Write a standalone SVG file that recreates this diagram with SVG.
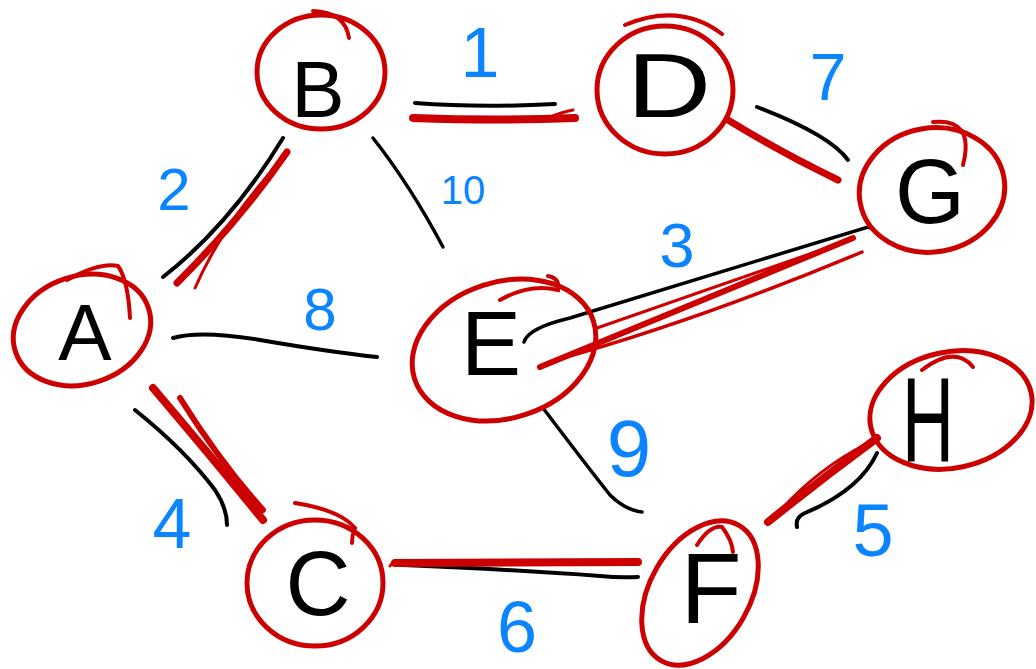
<svg xmlns="http://www.w3.org/2000/svg" width="1036" height="669" viewBox="0 0 1036 669">
<style>
.n{fill:none;stroke:#cc0000;stroke-width:5;stroke-linecap:round;stroke-linejoin:round}
.t{fill:none;stroke:#cc0000;stroke-width:4;stroke-linecap:round}
.lbl{font-family:"Liberation Sans",Arial,sans-serif;fill:#000;text-anchor:middle}
.w{font-family:"Liberation Sans",Arial,sans-serif;fill:#0a84ff;text-anchor:middle}
.k{fill:none;stroke:#000;stroke-width:4;stroke-linecap:round}
.r{fill:none;stroke:#cc0000;stroke-width:8;stroke-linecap:round}
.rt{fill:none;stroke:#cc0000;stroke-width:3;stroke-linecap:round}
</style>
<rect width="1036" height="669" fill="#fff"/>
<g id="edges">
  <!-- A-B -->
  <path class="k" d="M163 277 Q230 225 283 138"/>
  <path class="r" d="M177 283 Q240 220 287 152" style="stroke-width:7"/>
  <path class="rt" d="M195 288 Q225 220 282 160"/>
  <!-- B-E -->
  <path class="k" d="M373 138 Q410 185 443 247" style="stroke-width:3.5"/>
  <!-- B-D -->
  <path class="k" d="M415 103 Q480 108 555 104"/>
  <path class="r" d="M413 118 Q500 121 575 118"/>
  <path class="rt" d="M548 118 Q562 112 573 110"/>
  <!-- D-G -->
  <path class="k" d="M757 107 Q830 135 848 160"/>
  <path class="r" d="M728 120 Q780 152 838 180" style="stroke-width:7"/>
  <!-- E-G -->
  <path class="k" d="M524 342 Q528 328 570 318 L868 227 Q873 228 875 232" style="stroke-width:3.5"/>
  <path class="r" d="M540 367 L853 238" style="stroke-width:6"/>
  <path class="rt" d="M597 328 L850 240"/>
  <path class="rt" d="M556 360 Q700 320 862 252" style="stroke-width:3.5"/>
  <!-- A-E -->
  <path class="k" d="M173 338 Q200 330 260 340 Q330 352 377 357"/>
  <!-- A-C -->
  <path class="k" d="M135 410 Q185 450 215 490 Q227 508 227 525"/>
  <path class="r" d="M153 388 Q210 455 263 520"/>
  <path class="r" d="M180 398 Q220 462 263 510" style="stroke-width:6"/>
  <!-- E-F -->
  <path class="k" d="M543 408 Q590 470 610 495 Q625 510 642 512" style="stroke-width:3.5"/>
  <!-- C-F -->
  <path class="k" d="M403 565 Q520 570 600 576 Q620 578 638 577"/>
  <path class="r" d="M395 563 L638 562"/>
  <path class="rt" d="M390 566 Q394 560 405 561"/>
  <!-- F-H -->
  <path class="r" d="M768 522 Q820 480 877 438"/>
  <path class="rt" d="M772 520 Q812 472 866 444"/>
  <path class="k" d="M797 527 Q795 517 805 513 Q860 490 877 453"/>
</g>
<g id="node-A">
  <ellipse class="n" cx="82" cy="330" rx="70" ry="54" transform="rotate(-18 82 330)"/>
  <path class="t" d="M67 280 Q100 262 118 266 Q128 280 130 318"/>
  <text class="lbl" x="85" y="360" font-size="80">A</text>
</g>
<g id="node-B">
  <ellipse class="n" cx="321" cy="72" rx="64" ry="57"/>
  <path class="t" d="M313 11 Q345 12 349 38"/>
  <text class="lbl" x="318" y="117" font-size="80">B</text>
</g>
<g id="node-D">
  <ellipse class="n" cx="665" cy="90" rx="68" ry="64"/>
  <path class="t" d="M625 25 Q680 2 722 34"/>
  <text class="lbl" transform="translate(669 117) scale(1.3 1)" font-size="90">D</text>
</g>
<g id="node-G">
  <ellipse class="n" cx="932" cy="190" rx="73" ry="62" transform="rotate(-10 932 190)"/>
  <path class="t" d="M933 122 Q975 118 963 165"/>
  <text class="lbl" x="930" y="223" font-size="90">G</text>
</g>
<g id="node-E">
  <ellipse class="n" cx="504" cy="350" rx="94" ry="68" transform="rotate(-18 504 350)"/>
  <path class="t" d="M500 300 Q530 283 558 290 Q560 278 548 276"/>
  <text class="lbl" x="491" y="375" font-size="90">E</text>
</g>
<g id="node-C">
  <ellipse class="n" cx="315" cy="583" rx="68" ry="63"/>
  <path class="t" d="M295 503 Q340 510 355 528 Q352 535 352 543"/>
  <text class="lbl" x="318" y="615" font-size="90">C</text>
</g>
<g id="node-F">
  <ellipse class="n" cx="700" cy="593" rx="78" ry="50" transform="rotate(-60 700 593)"/>
  <path class="t" d="M697 545 Q710 525 722 527 Q732 540 733 552"/>
  <text class="lbl" x="711" y="623" font-size="100">F</text>
</g>
<g id="node-H">
  <ellipse class="n" cx="951" cy="410" rx="82" ry="58" transform="rotate(-12 951 410)"/>
  <path class="t" d="M922 370 Q955 345 973 367"/>
  <text class="lbl" transform="translate(928 462) scale(0.6 1)" font-size="120">H</text>
</g>
<g id="weights">
  <text class="w" x="480" y="77" font-size="70">1</text>
  <text class="w" x="828" y="100" font-size="66">7</text>
  <text class="w" x="174" y="210" font-size="60">2</text>
  <text class="w" x="463" y="204" font-size="40">10</text>
  <text class="w" x="677" y="267" font-size="63">3</text>
  <text class="w" x="320" y="330" font-size="60">8</text>
  <text class="w" x="629" y="476" font-size="80">9</text>
  <text class="w" x="172" y="548" font-size="70">4</text>
  <text class="w" x="873" y="556" font-size="74">5</text>
  <text class="w" x="517" y="652" font-size="72">6</text>
</g>
</svg>
